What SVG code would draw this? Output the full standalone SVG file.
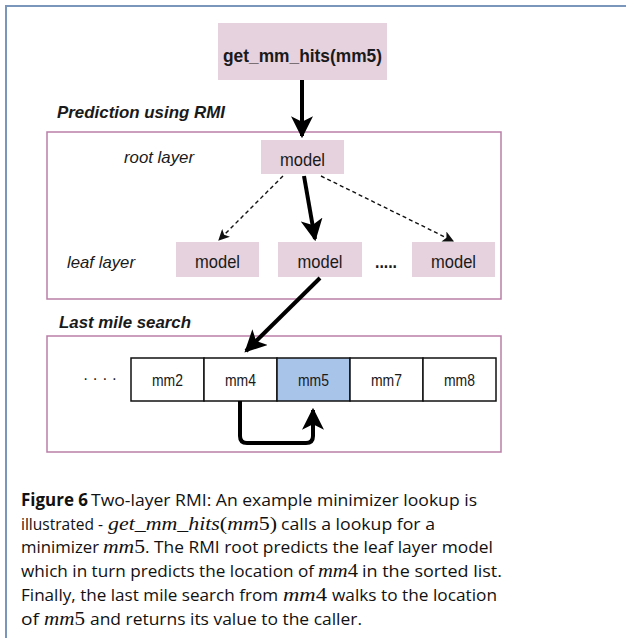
<svg xmlns="http://www.w3.org/2000/svg" width="626" height="638" viewBox="0 0 626 638">
<style>
.frame{fill:none;stroke:#7a96ba;stroke-width:2}
.pink{fill:#e6d1de;stroke:none}
.group{fill:none;stroke:#b97fa6;stroke-width:1.5}
.cell{fill:#ffffff;stroke:#111;stroke-width:1.5}
.cellhl{fill:#a9c4e9;stroke:#111;stroke-width:1.5}
.lbl{font-family:"Liberation Sans",Arial,sans-serif;fill:#1a1a1a}
.thick{fill:none;stroke:#000;stroke-width:4}
.dash{fill:none;stroke:#111;stroke-width:1.4;stroke-dasharray:4 3}
.cap{font-family:"Open Sans","DejaVu Sans",sans-serif;font-size:17px;fill:#111}
.math{font-family:"Liberation Serif","DejaVu Serif",serif;font-style:italic;font-size:19px;fill:#111}
</style>
<defs>
<marker id="big" viewBox="0 0 10 10" refX="9" refY="5" markerWidth="5.5" markerHeight="5.5" orient="auto" markerUnits="strokeWidth">
<path d="M0,0 L10,5 L0,10 L2.5,5 z" fill="#000"/>
</marker>
<marker id="small" viewBox="0 0 10 10" refX="9" refY="5" markerWidth="8" markerHeight="8" orient="auto" markerUnits="strokeWidth">
<path d="M0,0 L10,5 L0,10 L2.5,5 z" fill="#111"/>
</marker>
</defs>
<rect x="0" y="0" width="626" height="638" fill="#ffffff"/>
<path class="frame" d="M6,638 V6 H626"/>

<g id="call">
<rect class="pink" x="218" y="23" width="169" height="57"/>
<text class="lbl" x="302.5" y="62" font-size="19" font-weight="bold" text-anchor="middle" textLength="159" lengthAdjust="spacingAndGlyphs">get_mm_hits(mm5)</text>
</g>

<g id="rmi-group">
<text class="lbl" x="57" y="118" font-size="17" font-weight="bold" font-style="italic" textLength="168" lengthAdjust="spacingAndGlyphs">Prediction using RMI</text>
<rect class="group" x="47" y="132" width="454" height="167"/>
<text class="lbl" x="124" y="163" font-size="17" font-style="italic" textLength="70" lengthAdjust="spacingAndGlyphs">root layer</text>
<text class="lbl" x="67" y="268" font-size="17" font-style="italic" textLength="68" lengthAdjust="spacingAndGlyphs">leaf layer</text>
</g>

<g id="root-model">
<rect class="pink" x="261" y="140" width="83" height="34"/>
<text class="lbl" x="302.5" y="166" font-size="19" text-anchor="middle" textLength="45" lengthAdjust="spacingAndGlyphs">model</text>
</g>
<g id="leaf-model-1">
<rect class="pink" x="176" y="242" width="83" height="35"/>
<text class="lbl" x="217.5" y="268" font-size="19" text-anchor="middle" textLength="45" lengthAdjust="spacingAndGlyphs">model</text>
</g>
<g id="leaf-model-2">
<rect class="pink" x="278" y="242" width="84" height="35"/>
<text class="lbl" x="320" y="268" font-size="19" text-anchor="middle" textLength="45" lengthAdjust="spacingAndGlyphs">model</text>
</g>
<g id="leaf-dots">
<text class="lbl" x="386" y="268" font-size="18" font-weight="bold" text-anchor="middle" textLength="22" lengthAdjust="spacingAndGlyphs">.....</text>
</g>
<g id="leaf-model-3">
<rect class="pink" x="412" y="242" width="83" height="35"/>
<text class="lbl" x="453.5" y="268" font-size="19" text-anchor="middle" textLength="45" lengthAdjust="spacingAndGlyphs">model</text>
</g>

<g id="lastmile-group">
<text class="lbl" x="59" y="328" font-size="17" font-weight="bold" font-style="italic" textLength="132" lengthAdjust="spacingAndGlyphs">Last mile search</text>
<rect class="group" x="47" y="336" width="454" height="116"/>
<text class="lbl" x="100" y="384" font-size="17" text-anchor="middle" textLength="34" lengthAdjust="spacingAndGlyphs">· · · ·</text>
</g>

<g id="cell-mm2">
<rect class="cell" x="131" y="358" width="73" height="43"/>
<text class="lbl" x="167.5" y="386" font-size="16.5" text-anchor="middle" textLength="31" lengthAdjust="spacingAndGlyphs">mm2</text>
</g>
<g id="cell-mm4">
<rect class="cell" x="204" y="358" width="73" height="43"/>
<text class="lbl" x="240.5" y="386" font-size="16.5" text-anchor="middle" textLength="31" lengthAdjust="spacingAndGlyphs">mm4</text>
</g>
<g id="cell-mm5">
<rect class="cellhl" x="277" y="358" width="73" height="43"/>
<text class="lbl" x="313.5" y="386" font-size="16.5" text-anchor="middle" textLength="31" lengthAdjust="spacingAndGlyphs">mm5</text>
</g>
<g id="cell-mm7">
<rect class="cell" x="350" y="358" width="73" height="43"/>
<text class="lbl" x="386.5" y="386" font-size="16.5" text-anchor="middle" textLength="31" lengthAdjust="spacingAndGlyphs">mm7</text>
</g>
<g id="cell-mm8">
<rect class="cell" x="423" y="358" width="73" height="43"/>
<text class="lbl" x="459.5" y="386" font-size="16.5" text-anchor="middle" textLength="31" lengthAdjust="spacingAndGlyphs">mm8</text>
</g>

<g id="connectors">
<path class="thick" d="M302,80 V136" marker-end="url(#big)"/>
<path class="thick" d="M304,176 L315,239" marker-end="url(#big)"/>
<path class="dash" d="M283,176 L219,240" marker-end="url(#small)"/>
<path class="dash" d="M321,176 L453,241" marker-end="url(#small)"/>
<path class="thick" d="M320,278 L246,351" marker-end="url(#big)"/>
<path class="thick" d="M240,401 V436 Q240,443 247,443 H306 Q313,443 313,436 V410" marker-end="url(#big)"/>
</g>

<g id="caption">
<text class="cap" x="21" y="506" font-weight="bold" textLength="67" lengthAdjust="spacingAndGlyphs">Figure 6</text>
<text class="cap" x="91" y="506" textLength="386" lengthAdjust="spacingAndGlyphs">Two-layer RMI: An example minimizer lookup is</text>
<text class="cap" x="21" y="530" textLength="82" lengthAdjust="spacingAndGlyphs">illustrated -</text>
<text class="math" x="108" y="530" textLength="169" lengthAdjust="spacingAndGlyphs">get_mm_hits<tspan font-style="normal">(</tspan>mm<tspan font-style="normal">5)</tspan></text>
<text class="cap" x="281" y="530" textLength="154" lengthAdjust="spacingAndGlyphs">calls a lookup for a</text>
<text class="cap" x="21" y="553" textLength="78" lengthAdjust="spacingAndGlyphs">minimizer</text>
<text class="math" x="103" y="553" textLength="42" lengthAdjust="spacingAndGlyphs">mm<tspan font-style="normal">5</tspan></text>
<text class="cap" x="145" y="553" textLength="348" lengthAdjust="spacingAndGlyphs">. The RMI root predicts the leaf layer model</text>
<text class="cap" x="21" y="577" textLength="293" lengthAdjust="spacingAndGlyphs">which in turn predicts the location of</text>
<text class="math" x="318" y="577" textLength="40" lengthAdjust="spacingAndGlyphs">mm<tspan font-style="normal">4</tspan></text>
<text class="cap" x="362" y="577" textLength="140" lengthAdjust="spacingAndGlyphs">in the sorted list.</text>
<text class="cap" x="21" y="601" textLength="257" lengthAdjust="spacingAndGlyphs">Finally, the last mile search from</text>
<text class="math" x="283" y="601" textLength="44" lengthAdjust="spacingAndGlyphs">mm<tspan font-style="normal">4</tspan></text>
<text class="cap" x="332" y="601" textLength="165" lengthAdjust="spacingAndGlyphs">walks to the location</text>
<text class="cap" x="21" y="625" textLength="18" lengthAdjust="spacingAndGlyphs">of</text>
<text class="math" x="44" y="625" textLength="41" lengthAdjust="spacingAndGlyphs">mm<tspan font-style="normal">5</tspan></text>
<text class="cap" x="90" y="625" textLength="272" lengthAdjust="spacingAndGlyphs">and returns its value to the caller.</text>
</g>
</svg>
